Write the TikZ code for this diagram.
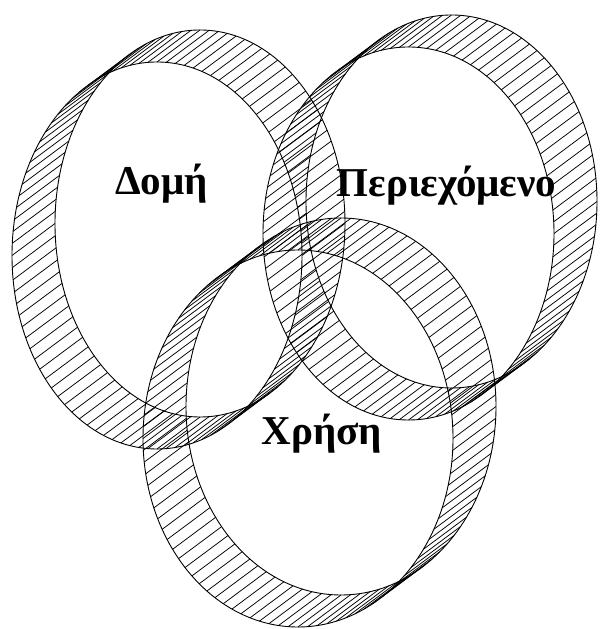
\documentclass[tikz,border=0pt]{standalone}
\usepackage{fontspec}
\setmainfont{Liberation Serif}
\usetikzlibrary{calc}
\begin{document}
\begin{tikzpicture}[x=1pt,y=1pt,
  rim/.style={line width=0.9pt},
  hatchline/.style={line width=0.75pt},
  lbl/.style={font=\fontsize{41}{49}\selectfont\bfseries, anchor=base, inner sep=0pt}]
\useasboundingbox (0,0) rectangle (600,629);
% ring centres (lower-left ellipse A); B = A + (43,32)
\coordinate (dA) at (157,373.5);
\coordinate (pA) at (408.5,395.5);
\coordinate (xA) at (298,190.5);
\foreach \c/\a/\b in {dA/145/193.5, pA/145.5/186.5, xA/155/188.5}{
  \draw[rim] (\c) ellipse [x radius=\a, y radius=\b];
  \draw[rim] ($(\c)+(43,32)$) ellipse [x radius=\a, y radius=\b];
  \foreach \t in {0,3.6,...,356.5}{
    \draw[hatchline] (\c) ++({\a*cos(\t)},{\b*sin(\t)}) -- ++(43,32);
  }
}
\node[lbl] (dom) at (161.5,434) {Δομή};
\node[lbl] (per) at (446.5,432) {Περιεχόμενο};
\node[lbl] (xri) at (322,184) {Χρήση};
\end{tikzpicture}
\end{document}
